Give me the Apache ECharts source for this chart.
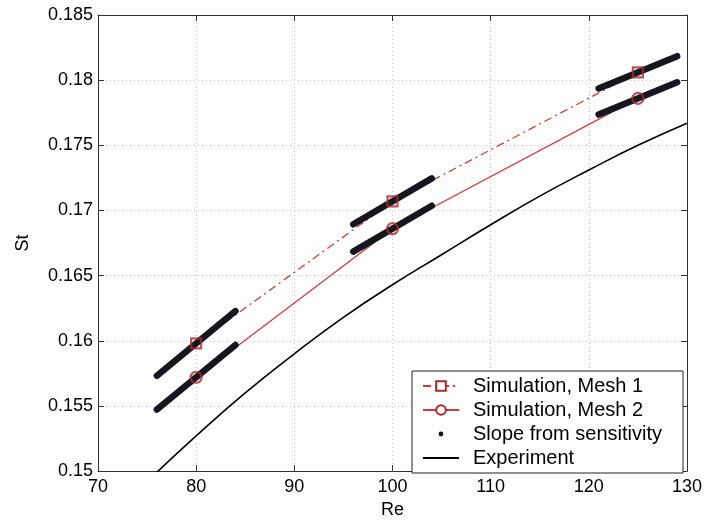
<!DOCTYPE html>
<html>
<head>
<meta charset="utf-8">
<script src="https://cdn.jsdelivr.net/npm/echarts@6/dist/echarts.min.js"></script>
<style>
html,body{margin:0;padding:0;background:#fff;}
#chart{width:705px;height:524px;}
</style>
</head>
<body>
<div id="chart"></div>
<script>
// ---- data ----
const reMesh = [80, 100, 125];
const stMesh1 = [0.1598, 0.1707, 0.1806];
const stMesh2 = [0.1572, 0.1686, 0.1786];
const slopeMesh1 = [0.00062, 0.00044, 0.00031];
const slopeMesh2 = [0.00062, 0.00044, 0.00031];
const slopeHalfSpan = 4;
const reExp = [75, 80, 85, 90, 95, 100, 105, 110, 115, 120, 125, 130];
const stExp = [0.1492, 0.1527, 0.1560, 0.1590, 0.1618, 0.1643, 0.1666, 0.1689, 0.1711, 0.1731, 0.1750, 0.1767];
const xTicks = [70, 80, 90, 100, 110, 120, 130];
const yTicks = [0.15, 0.155, 0.16, 0.165, 0.17, 0.175, 0.18, 0.185];
const names = ['Simulation, Mesh 1', 'Simulation, Mesh 2', 'Slope from sensitivity', 'Experiment'];

const FONT = "'Liberation Sans', Arial, Helvetica, sans-serif";
const RED = '#d03c3c';
const DARKRED = '#a82a2a';
const SEG = '#16161f';

function zip(a, b) { return a.map((v, i) => [v, b[i]]); }

const series = [];
series.push({
  name: names[0], type: 'line', data: zip(reMesh, stMesh1),
  symbol: 'emptyRect', showSymbol: false, z: 1,
  lineStyle: { color: RED, width: 1.3, type: [8, 4, 2, 4] },
  itemStyle: { color: DARKRED }
});
series.push({
  name: names[1], type: 'line', data: zip(reMesh, stMesh2),
  symbol: 'emptyCircle', showSymbol: false, z: 1,
  lineStyle: { color: RED, width: 1.3 },
  itemStyle: { color: DARKRED }
});
function addSegments(st, slope) {
  st.forEach((y, i) => {
    const x = reMesh[i];
    series.push({
      name: names[2], type: 'line', z: 2,
      symbol: 'circle', showSymbol: false,
      data: [[x - slopeHalfSpan, y - slope[i] * slopeHalfSpan], [x + slopeHalfSpan, y + slope[i] * slopeHalfSpan]],
      lineStyle: { color: SEG, width: 6.5, cap: 'round' },
      itemStyle: { color: SEG },
      silent: true
    });
  });
}
addSegments(stMesh1, slopeMesh1);
addSegments(stMesh2, slopeMesh2);
series.push({
  name: 'm1markers', type: 'scatter', z: 3, data: zip(reMesh, stMesh1),
  symbol: 'rect', symbolSize: 10,
  itemStyle: { color: 'rgba(0,0,0,0)', borderColor: DARKRED, borderWidth: 2.2 }
});
series.push({
  name: 'm2markers', type: 'scatter', z: 3, data: zip(reMesh, stMesh2),
  symbol: 'circle', symbolSize: 11,
  itemStyle: { color: 'rgba(0,0,0,0)', borderColor: DARKRED, borderWidth: 2.2 }
});
series.push({
  name: names[3], type: 'line', data: zip(reExp, stExp), smooth: true,
  symbol: 'none', z: 1, clip: true,
  lineStyle: { color: '#000', width: 1.6 }
});

const rowCenters = [386, 410, 434, 458];
function mkLegend(i, extra) {
  return Object.assign({
    orient: 'vertical', left: 422, top: rowCenters[i] - 10, padding: 0,
    itemWidth: 36, itemHeight: 12, selectedMode: false,
    textStyle: { fontFamily: FONT, fontSize: 20, color: '#000', lineHeight: 20, padding: [0, 0, 0, 9] },
    data: [names[i]]
  }, extra || {});
}

const option = {
  backgroundColor: '#fff',
  animation: false,
  grid: { left: 98, right: 18, top: 15, bottom: 47, show: false },
  xAxis: [{
    type: 'value', min: xTicks[0], max: xTicks[xTicks.length - 1], interval: 10,
    name: 'Re', nameLocation: 'middle', nameGap: 27,
    nameTextStyle: { fontFamily: FONT, fontSize: 18, color: '#000' },
    axisLine: { show: true, lineStyle: { color: '#333', width: 1 } },
    axisTick: { show: true, inside: true, length: 6, lineStyle: { color: '#333' } },
    axisLabel: { fontFamily: FONT, fontSize: 18, color: '#000', margin: 7 },
    splitLine: { show: true, lineStyle: { color: '#c8c8c8', type: [1, 3], width: 1 } }
  }, {
    type: 'value', position: 'top', min: xTicks[0], max: xTicks[xTicks.length - 1], interval: 10,
    axisLine: { show: true, lineStyle: { color: '#333', width: 1 } },
    axisTick: { show: true, inside: true, length: 6, lineStyle: { color: '#333' } },
    axisLabel: { show: false }, splitLine: { show: false }
  }],
  yAxis: [{
    type: 'value', min: yTicks[0], max: yTicks[yTicks.length - 1], interval: 0.005,
    name: 'St', nameLocation: 'middle', nameGap: 66, nameRotate: 90,
    nameTextStyle: { fontFamily: FONT, fontSize: 18, color: '#000' },
    axisLine: { show: true, lineStyle: { color: '#333', width: 1 } },
    axisTick: { show: true, inside: true, length: 6, lineStyle: { color: '#333' } },
    axisLabel: { fontFamily: FONT, fontSize: 18, color: '#000', margin: 5,
      formatter: v => String(+v.toFixed(3)) },
    splitLine: { show: true, lineStyle: { color: '#c8c8c8', type: [1, 3], width: 1 } }
  }, {
    type: 'value', position: 'right', min: yTicks[0], max: yTicks[yTicks.length - 1], interval: 0.005,
    axisLine: { show: true, lineStyle: { color: '#333', width: 1 } },
    axisTick: { show: true, inside: true, length: 6, lineStyle: { color: '#333' } },
    axisLabel: { show: false }, splitLine: { show: false }
  }],
  graphic: [{
    type: 'rect', z: 3,
    shape: { x: 412, y: 371, width: 271, height: 102 },
    style: { fill: '#fff', stroke: '#222', lineWidth: 1 }
  }],
  legend: [
    mkLegend(0),
    mkLegend(1),
    mkLegend(2, { itemHeight: 6, data: [{ name: names[2], lineStyle: { opacity: 0 } }] }),
    mkLegend(3, { data: [{ name: names[3], itemStyle: { opacity: 0 } }] })
  ],
  series: series
};

const chart = echarts.init(document.getElementById('chart'), null, { renderer: 'canvas' });
chart.setOption(option);
</script>
</body>
</html>
